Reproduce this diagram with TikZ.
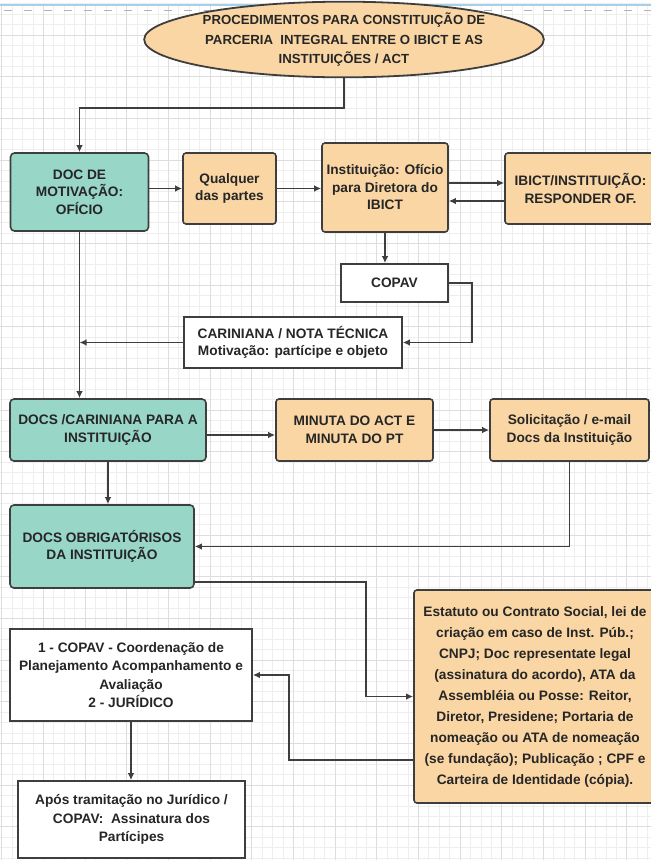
\documentclass[tikz,border=0pt]{standalone}
\usepackage{fontspec}
\setmainfont{Liberation Sans}
\usetikzlibrary{shapes.geometric,arrows.meta,calc}
\definecolor{tealc}{HTML}{98D6C8}
\definecolor{orangec}{HTML}{FAD6A5}
\definecolor{linec}{HTML}{3E3E3E}
\definecolor{textc}{HTML}{262626}
\definecolor{minorg}{HTML}{EEEEEE}
\definecolor{majorg}{HTML}{DDDDDD}
\definecolor{pageblue}{HTML}{A6CFEC}
\tikzset{
  boxbase/.style={draw=linec, line width=1.6pt, text=textc, align=center, inner sep=0pt,
    font=\bfseries\fontsize{13.7}{17.5}\selectfont},
  tealbox/.style={boxbase, fill=tealc, rounded corners=4pt},
  orangebox/.style={boxbase, fill=orangec, rounded corners=3pt},
  whitebox/.style={boxbase, fill=white},
  arr/.style={draw=linec, line width=1.6pt, -{Latex[length=7pt,width=6.5pt]}},
  minorgrid/.style={draw=minorg, line width=0.6pt},
  majorgrid/.style={draw=majorg, line width=0.8pt}
}
\begin{document}
\begin{tikzpicture}[x=1pt,y=-1pt]
\clip (0,0) rectangle (651,860);
\fill[white] (0,0) rectangle (651,860);
% grid paper
\foreach \i in {0,...,62} \draw[minorgrid] ({1.7+\i*10.4167},5) -- ({1.7+\i*10.4167},860);
\foreach \j in {1,...,83} \draw[minorgrid] (0,{-6.67+\j*10.4167}) -- (651,{-6.67+\j*10.4167});
\foreach \i in {0,...,15} \draw[majorgrid] ({1.7+\i*41.667},5) -- ({1.7+\i*41.667},860);
\foreach \j in {1,...,20} \draw[majorgrid] (0,{-6.67+\j*41.667}) -- (651,{-6.67+\j*41.667});
\draw[pageblue, line width=1.2pt] (0,5) -- (651,5);
\draw[gray!60, line width=0.8pt, dash pattern=on 8pt off 12pt] (4,10.7) -- (651,10.7);

% nodes
\node[boxbase, ellipse, fill=orangec, line width=1.8pt, minimum width=372pt, minimum height=71pt,
  font=\bfseries\fontsize{13.2}{19.5}\selectfont] (title) at (344,39.5)
  {PROCEDIMENTOS PARA CONSTITUIÇÃO DE\\PARCERIA\ \ INTEGRAL ENTRE O IBICT E AS\\INSTITUIÇÕES / ACT};
\node[tealbox, minimum width=138pt, minimum height=78pt] (doc) at (79.5,192) {DOC DE\\MOTIVAÇÃO:\\OFÍCIO};
\node[orangebox, minimum width=93pt, minimum height=71pt] (qual) at (229.5,188.5) {Qualquer\\das partes};
\node[orangebox, minimum width=126pt, minimum height=89pt] (inst) at (385,187.5) {Instituição: Ofício\\para Diretora do\\IBICT};
\node[orangebox, minimum width=151pt, minimum height=71pt] (ibict) at (580.5,188.5) {IBICT/INSTITUIÇÃO:\\RESPONDER OF.};
\node[whitebox, minimum width=107pt, minimum height=38pt] (copav) at (394.5,283) {COPAV};
\node[whitebox, minimum width=218pt, minimum height=51pt] (cari) at (293,342.5) {CARINIANA / NOTA TÉCNICA\\Motivação: partícipe e objeto};
\node[tealbox, minimum width=196pt, minimum height=62pt] (docscar) at (108,430) {DOCS /CARINIANA PARA A\\INSTITUIÇÃO};
\node[orangebox, minimum width=157pt, minimum height=62pt] (minuta) at (354.5,430) {MINUTA DO ACT E\\MINUTA DO PT};
\node[orangebox, minimum width=159pt, minimum height=62pt] (solic) at (569.5,430) {Solicitação / e-mail\\Docs da Instituição};
\node[tealbox, minimum width=184pt, minimum height=83pt] (obrig) at (102,546.5) {DOCS OBRIGATÓRISOS\\DA INSTITUIÇÃO};
\node[orangebox, minimum width=242pt, minimum height=213pt, font=\bfseries\fontsize{13.7}{21}\selectfont] (estatuto) at (535,696.5)
  {Estatuto ou Contrato Social, lei de\\criação em caso de Inst. Púb.;\\CNPJ; Doc representate legal\\(assinatura do acordo), ATA da\\Assembléia ou Posse: Reitor,\\Diretor, Presidene; Portaria de\\nomeação ou ATA de nomeação\\(se fundação); Publicação ; CPF e\\Carteira de Identidade (cópia).};
\node[whitebox, minimum width=242pt, minimum height=92pt, font=\bfseries\fontsize{13.7}{18.5}\selectfont] (copav2) at (131,675)
  {1 - COPAV - Coordenação de\\Planejamento Acompanhamento e\\Avaliação\\2 - JURÍDICO};
\node[whitebox, minimum width=227pt, minimum height=77pt, font=\bfseries\fontsize{13.7}{18.5}\selectfont] (apos) at (131.5,819.5)
  {Após tramitação no Jurídico /\\COPAV:\ \ Assinatura dos\\Partícipes};

% connectors
\draw[arr] (title.south) -- ++(0,30) -| (doc.north);
\draw[arr] (doc.east |- qual.west) -- (qual.west);
\draw[arr] (qual.east) -- (qual.east -| inst.west);
\draw[arr] ($(inst.east)+(0,-4.5)$) -- ($(ibict.west)+(0,-5.5)$);
\draw[arr] ($(ibict.west)+(0,12.5)$) -- ($(inst.east)+(0,13.5)$);
\draw[arr] (inst.south) -- (inst.south |- copav.north);
\draw[arr] (copav.east) -- ++(23,0) |- (cari.east);
\draw[arr] (cari.west) -- (cari.west -| doc.south);
\draw[arr] (doc.south) -- (doc.south |- docscar.north);
\draw[arr] ($(docscar.east)+(0,5)$) -- ($(minuta.west)+(0,5)$);
\draw[arr] (minuta.east) -- (solic.west);
\draw[arr] (docscar.south) -- (docscar.south |- obrig.north);
\draw[arr] (solic.south) |- (obrig.east);
\draw[arr] ($(obrig.east)+(0,35.5)$) -- ++(171,0) |- (estatuto.west);
\draw[arr] ($(estatuto.west)+(0,63.5)$) -- ++(-124,0) |- (copav2.east);
\draw[arr] (copav2.south) -- (copav2.south |- apos.north);
\end{tikzpicture}
\end{document}
